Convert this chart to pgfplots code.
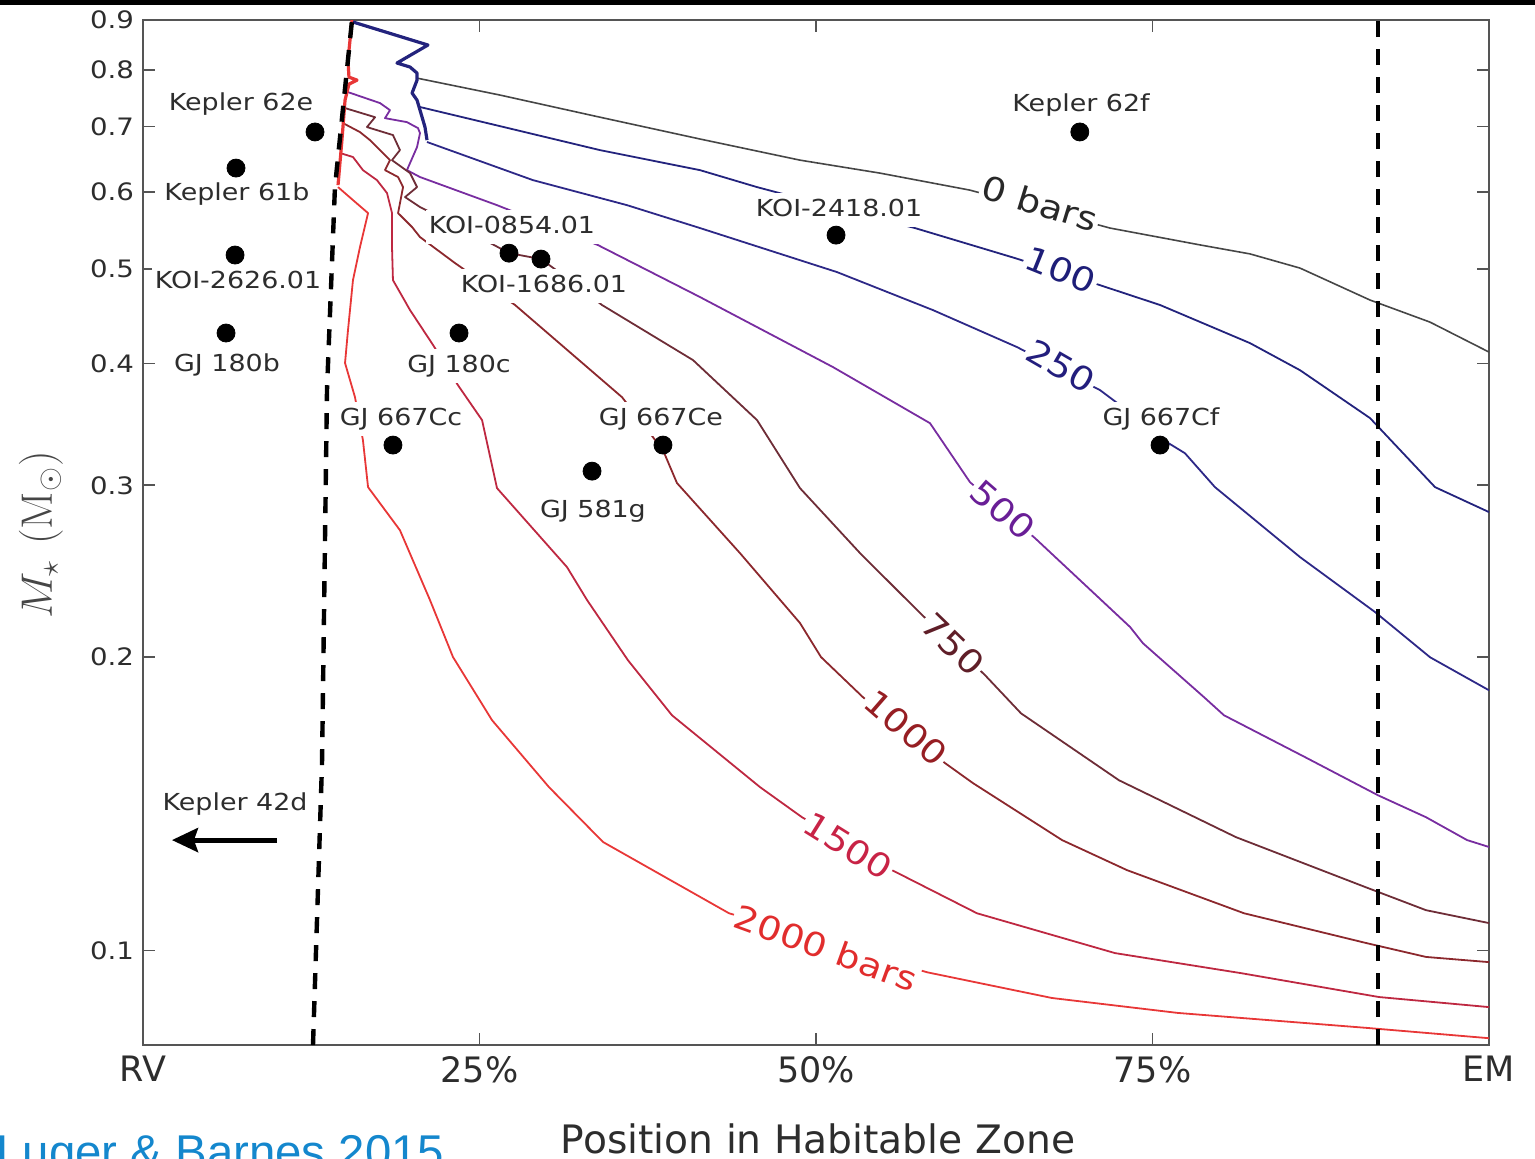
\documentclass[border=0pt]{standalone}
\usepackage{fix-cm}
\usepackage{pgfplots}
\pgfplotsset{compat=1.18}
\usetikzlibrary{arrows.meta}
\usepackage[no-math]{fontspec}
\setmainfont{DejaVu Sans}[FakeStretch=1.15]
\newfontfamily\xfont{DejaVu Sans}
\newfontfamily\bluefont{Liberation Sans}

\definecolor{labgray}{RGB}{45,45,45}
\definecolor{ylabgray}{RGB}{70,70,70}
\definecolor{framegray}{RGB}{85,85,85}
\definecolor{c0}{RGB}{70,70,70}
\definecolor{c100}{RGB}{35,35,125}
\definecolor{c250}{RGB}{45,40,135}
\definecolor{c500}{RGB}{120,45,160}
\definecolor{c750}{RGB}{110,45,55}
\definecolor{c1000}{RGB}{140,40,45}
\definecolor{c1500}{RGB}{190,40,65}
\definecolor{c2000}{RGB}{232,55,55}
\definecolor{t0}{RGB}{40,40,40}
\definecolor{t100}{RGB}{30,30,120}
\definecolor{t250}{RGB}{35,30,125}
\definecolor{t500}{RGB}{105,30,150}
\definecolor{t750}{RGB}{95,30,40}
\definecolor{t1000}{RGB}{150,30,35}
\definecolor{t1500}{RGB}{200,35,70}
\definecolor{t2000}{RGB}{225,45,45}
\definecolor{lugerblue}{RGB}{20,135,205}

\newcommand{\plab}{\fontsize{11.7}{14}\selectfont}
\newcommand{\clab}{\fontsize{16.5}{19}\selectfont}

\tikzset{
  planet/.style={font=\plab, text=labgray, fill=white, inner xsep=1.5pt, inner ysep=2pt, text height=9.5pt, text depth=3.5pt, anchor=base},
  clabel/.style={font=\clab, fill=white, inner sep=1pt, anchor=center},
}

\begin{document}
\begin{tikzpicture}
\useasboundingbox (0pt,0pt) rectangle (767.5pt,-579pt);
\clip (0pt,0pt) rectangle (767.5pt,-579pt);
\begin{axis}[
  at={(71.5pt,-522.5pt)}, anchor=south west,
  scale only axis, width=673pt, height=512.5pt,
  xmin=0, xmax=100, ymin=0.08, ymax=0.9,
  ymode=log,
  xtick={0,25,50,75,100}, xticklabels={RV,25\%,50\%,75\%,EM},
  ytick={0.1,0.2,0.3,0.4,0.5,0.6,0.7,0.8,0.9},
  yticklabels={0.1,0.2,0.3,0.4,0.5,0.6,0.7,0.8,0.9},
  yminorticks=false, xminorticks=false,
  tick align=inside, major tick length=6pt,
  axis line style={draw=framegray, line width=1pt},
  every tick/.style={draw=framegray, line width=0.8pt},
  yticklabel style={font=\fontsize{12}{14}\selectfont, text=labgray, xshift=-1pt},
  xticklabel style={font=\xfont\fontsize{17.5}{20}\selectfont, text=labgray, yshift=-2pt},
  xlabel={Position in Habitable Zone},
  xlabel style={font=\xfont\fontsize{19.6}{23}\selectfont, text=labgray, at={(axis description cs:0.5015,-0.1054)}, anchor=base},
  ylabel={$M_\star\ (\mathrm{M}_\odot)$},
  ylabel style={font=\fontsize{22}{26}\selectfont, text=ylabgray, at={(axis description cs:-0.0758,0.4976)}, anchor=center},
  every axis plot/.append style={line join=round, mark=none},
]
% contour lines
\addplot[c0, line width=0.8pt] coordinates {(20.36,0.7847) (26.52,0.7539) (33.95,0.7155) (41.38,0.6796) (48.81,0.6465) (54.75,0.6270) (61.44,0.6023) (71.84,0.5507) (78.53,0.5292) (82.24,0.5181) (85.96,0.5010) (91.16,0.4646) (95.62,0.4410) (100,0.4109)};
\addplot[c100, line width=0.9pt] coordinates {(20.58,0.7329) (26.52,0.7006) (33.95,0.6620) (41.38,0.6314) (45.62,0.6066) (51.49,0.5773) (57.35,0.5507) (64.78,0.5130) (71.10,0.4812) (75.56,0.4592) (82.24,0.4197) (85.96,0.3937) (91.16,0.3516) (95.99,0.2987) (100,0.2816)};
\addplot[c250, line width=0.9pt] coordinates {(21.10,0.6748) (28.97,0.6167) (35.96,0.5813) (41.38,0.5507) (51.56,0.4963) (58.69,0.4537) (64.93,0.4158) (71.10,0.3756) (74.07,0.3499) (76.08,0.3321) (77.41,0.3236) (79.64,0.2987) (85.96,0.2532) (91.53,0.2224) (95.62,0.1999) (100,0.1849)};
\addplot[c500, line width=0.9pt] coordinates {(15.23,0.7592) (17.61,0.7398) (18.35,0.7275) (17.98,0.7139) (19.61,0.7072) (20.43,0.6973) (20.58,0.6891) (20.36,0.6668) (19.84,0.6421) (19.61,0.6314) (20.58,0.6212) (26.30,0.5813) (33.80,0.5290) (41.38,0.4679) (51.26,0.3966) (58.47,0.3474) (61.44,0.3022) (66.27,0.2648) (73.33,0.2147) (74.29,0.2066) (78.83,0.1819) (80.31,0.1743) (86.33,0.1579) (91.75,0.1443) (95.32,0.1370) (98.37,0.1298) (100,0.1277)};
\addplot[c750, line width=0.9pt] coordinates {(15.01,0.7311) (17.24,0.7155) (16.64,0.6990) (18.57,0.6859) (19.09,0.6620) (18.50,0.6465) (19.84,0.6270) (20.36,0.6066) (19.47,0.5925) (20.58,0.5787) (24.29,0.5455) (27.19,0.5191) (29.57,0.5118) (31.72,0.4870) (34.10,0.4592) (40.86,0.4032) (45.62,0.3499) (48.81,0.2980) (53.27,0.2556) (57.73,0.2219) (62.56,0.1916) (65.23,0.1751) (72.51,0.1495) (81.20,0.1307) (90.86,0.1161) (95.32,0.1100) (100,0.1067)};
\addplot[c1000, line width=0.9pt] coordinates {(14.86,0.7056) (16.12,0.6908) (16.86,0.6778) (18.35,0.6465) (17.98,0.6314) (18.95,0.6212) (19.32,0.6066) (18.95,0.5705) (19.99,0.5520) (20.58,0.5391) (23.18,0.5070) (27.64,0.4592) (35.59,0.3694) (38.63,0.3260) (39.67,0.3016) (44.35,0.2556) (48.81,0.2167) (50.37,0.2000) (53.49,0.1819) (59.58,0.1557) (61.66,0.1485) (68.28,0.1298) (73.11,0.1209) (81.80,0.1092) (90.86,0.1018) (95.32,0.0985) (100,0.0973)};
\addplot[c1500, line width=0.9pt] coordinates {(14.64,0.6574) (15.60,0.6513) (16.34,0.6314) (17.38,0.6167) (18.13,0.5981) (18.50,0.5705) (18.50,0.5265) (18.57,0.4870) (19.84,0.4537) (21.55,0.4178) (23.40,0.3800) (25.19,0.3499) (26.30,0.2980) (31.50,0.2473) (32.99,0.2288) (36.03,0.1985) (39.30,0.1743) (45.84,0.1471) (48.96,0.1370) (55.65,0.1209) (61.96,0.1092) (72.21,0.0994) (81.58,0.0948) (91.83,0.0896) (100,0.0875)};
\addplot[c2000, line width=0.9pt] coordinates {(14.49,0.6066) (15.60,0.5883) (16.72,0.5705) (16.12,0.5265) (15.60,0.4870) (15.23,0.4328) (15.01,0.4004) (15.75,0.3694) (16.34,0.3337) (16.72,0.2987) (19.09,0.2698) (21.32,0.2288) (23.03,0.2000) (25.93,0.1723) (30.16,0.1471) (34.18,0.1292) (43.54,0.1092) (58.25,0.0950) (67.53,0.0894) (76.89,0.0863) (90.94,0.0833) (100,0.0813)};
% boundaries
\addplot[c2000, line width=1.6pt] coordinates {(15.53,0.9) (15.23,0.8188) (15.30,0.7866) (15.90,0.7810) (15.30,0.7737) (15.01,0.7449) (14.78,0.6778) (14.49,0.6095)};
\addplot[c100, line width=1.6pt] coordinates {(15.60,0.8958) (21.17,0.8484) (18.87,0.8131) (19.84,0.8054) (20.36,0.7941) (20.36,0.7810) (19.99,0.7575) (20.36,0.7449) (20.58,0.7275) (20.95,0.6990) (21.10,0.6778)};
% dashed limits
\addplot[black, line width=2.2pt, dash pattern=on 8pt off 6pt] coordinates {(12.63,0.08) (13.30,0.1556) (13.67,0.3756) (14.26,0.6065) (15.53,0.9)};
\addplot[black, line width=2.2pt, dash pattern=on 8pt off 6pt] coordinates {(91.75,0.08) (91.75,0.9)};
% contour labels
\node[clabel, text=t0, rotate=-17] at (axis cs:66.64,0.5841) {0 bars};
\node[clabel, text=t100, rotate=-22] at (axis cs:68.2,0.4987) {100};
\node[clabel, text=t250, rotate=-30] at (axis cs:68.2,0.3975) {250};
\node[clabel, text=t500, rotate=-41] at (axis cs:63.89,0.2830) {500};
\node[clabel, text=t750, rotate=-44] at (axis cs:60.18,0.2061) {750};
\node[clabel, text=t1000, rotate=-41] at (axis cs:56.69,0.1691) {1000};
\node[clabel, text=t1500, rotate=-32] at (axis cs:52.38,0.1280) {1500};
\node[clabel, text=t2000, rotate=-20] at (axis cs:50.74,0.1006) {2000 bars};
% planet labels
\node[planet] at (axis cs:7.28,0.7261) {Kepler 62e};
\node[planet] at (axis cs:6.98,0.5884) {Kepler 61b};
\node[planet] at (axis cs:7.06,0.4778) {KOI-2626.01};
\node[planet] at (axis cs:6.24,0.3928) {GJ 180b};
\node[planet] at (axis cs:69.69,0.7244) {Kepler 62f};
\node[planet] at (axis cs:51.71,0.5666) {KOI-2418.01};
\node[planet] at (axis cs:27.41,0.5443) {KOI-0854.01};
\node[planet] at (axis cs:29.79,0.4733) {KOI-1686.01};
\node[planet] at (axis cs:23.48,0.3918) {GJ 180c};
\node[planet] at (axis cs:19.17,0.3458) {GJ 667Cc};
\node[planet] at (axis cs:33.43,0.2783) {GJ 581g};
\node[planet] at (axis cs:38.48,0.3458) {GJ 667Ce};
\node[planet] at (axis cs:75.63,0.3458) {GJ 667Cf};
\node[planet] at (axis cs:6.84,0.1393) {Kepler 42d};
% planets
\addplot[only marks, mark=*, mark size=4.5pt, black] coordinates {(12.78,0.691) (6.91,0.6345) (6.84,0.5167) (6.17,0.4298) (69.6,0.691) (51.49,0.5416) (27.19,0.519) (29.57,0.5118) (23.48,0.4298) (18.57,0.3299) (33.36,0.3102) (38.63,0.3299) (75.56,0.3299)};
% Kepler 42d arrow
\draw[black, line width=2.5pt, -{Stealth[length=13pt, width=12pt, inset=2pt]}] (axis cs:9.96,0.1298) -- (axis cs:2.15,0.1298);
\end{axis}
\fill[black] (0pt,0pt) rectangle (767.5pt,-2.5pt);
\node[anchor=base west, inner sep=0pt, font=\bluefont\fontsize{23.7}{28}\selectfont, text=lugerblue] at (-2pt,-584pt) {Luger \& Barnes 2015};
\end{tikzpicture}
\end{document}
